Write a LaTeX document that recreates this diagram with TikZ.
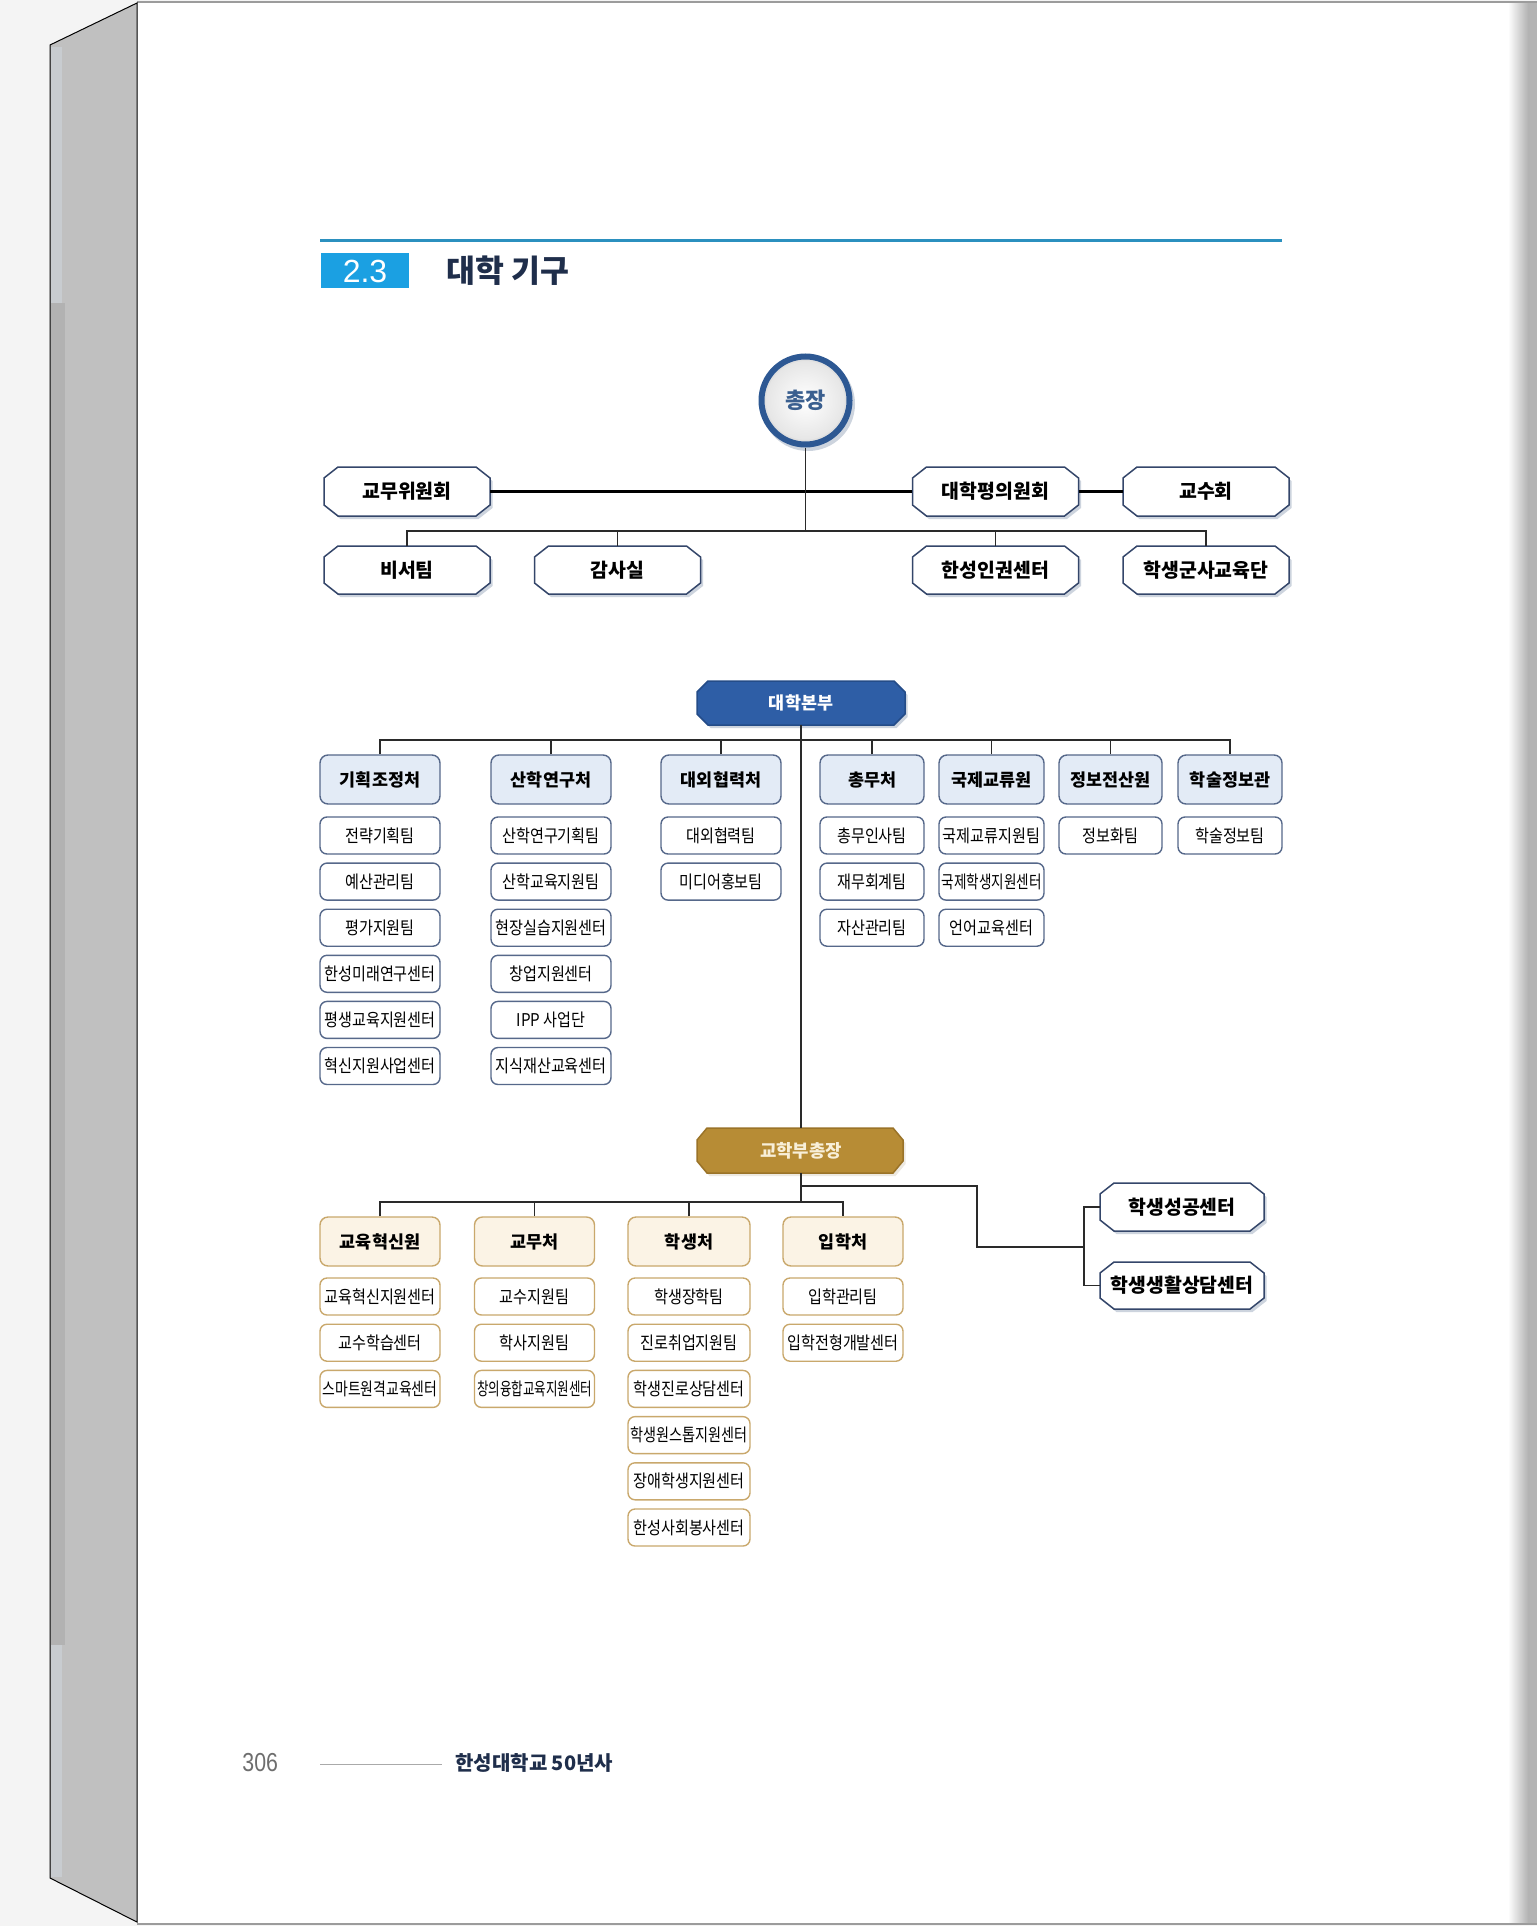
\documentclass[tikz,border=0pt]{standalone}
\usepackage{fontspec}
\usepackage{graphicx}
\newfontfamily\kr{Noto Sans CJK KR}
\newfontfamily\krc{Noto Sans CJK KR}[FakeStretch=0.86]
\newfontfamily\lsans{Liberation Sans}
\newfontfamily\lsansn{Liberation Sans}[FakeStretch=0.82]
\newsavebox\fitbox
\newlength\fitd
\newcommand\fitw[2]{\setlength\fitd{#1}\sbox\fitbox{#2}\ifdim\wd\fitbox>\fitd\resizebox{\fitd}{\height}{\usebox\fitbox}\else\usebox\fitbox\fi}
\definecolor{bgc}{HTML}{F4F4F4}
\definecolor{spine}{HTML}{C0C0C0}
\definecolor{spinel}{HTML}{C8CCD0}
\definecolor{spined}{HTML}{B2B2B2}
\definecolor{edgeg}{HTML}{9C9C9C}
\definecolor{rshade}{HTML}{B3B3B3}
\definecolor{tline}{HTML}{2B90BF}
\definecolor{tbox}{HTML}{1BA0E2}
\definecolor{tnavy}{HTML}{1F2E4B}
\definecolor{connc}{HTML}{2A2A2A}
\definecolor{octd}{HTML}{34466A}
\definecolor{octsh}{HTML}{CDD4DE}
\definecolor{ring}{HTML}{2D5893}
\definecolor{presc}{HTML}{3A5F8F}
\definecolor{bhf}{HTML}{E3EBF6}
\definecolor{bhd}{HTML}{56688A}
\definecolor{ghf}{HTML}{FBF3E5}
\definecolor{ghd}{HTML}{C9A86C}
\definecolor{hqf}{HTML}{2E5EA6}
\definecolor{hqd}{HTML}{244C88}
\definecolor{gdf}{HTML}{B78C35}
\definecolor{gdd}{HTML}{9A7328}
\definecolor{gdt}{HTML}{F8EFD8}
\definecolor{pgc}{HTML}{6E6E6E}
\definecolor{fline}{HTML}{AAAAAA}
\newcommand\octshape[7]{%
 \path[#1] ({#2-#4+#6},{#3-#5}) -- ({#2+#4-#6},{#3-#5}) -- ({#2+#4},{#3-#5+#7}) -- ({#2+#4},{#3+#5-#7}) -- ({#2+#4-#6},{#3+#5}) -- ({#2-#4+#6},{#3+#5}) -- ({#2-#4},{#3+#5-#7}) -- ({#2-#4},{#3-#5+#7}) -- cycle;}
\newcommand\octnode[6]{%
 \octshape{fill=octsh}{#2+2.5}{#3+3}{#4}{#5}{14}{11}%
 \octshape{draw=octd,fill=white,line width=0.75pt}{#2}{#3}{#4}{#5}{14}{11}%
 \node[octtxt, minimum width=#4pt, minimum height=#5pt] (#1) at (#2,#3) {#6};}
\newcommand\bsb[5]{\node[bsubst, minimum width=#4pt] (#1) at (#2,{835.5+46.1*#3}) {\fitw{\dimexpr#4pt-2.5pt\relax}{#5}};}
\newcommand\gsb[5]{\node[gsubst, minimum width=#4pt] (#1) at (#2,{1296.5+46.2*#3}) {\fitw{\dimexpr#4pt-2.5pt\relax}{#5}};}
\begin{document}
\begin{tikzpicture}[x=0.5pt,y=-0.5pt,
 conn/.style={draw=connc, line width=0.75pt},
 octtxt/.style={inner sep=0pt, font=\kr\bfseries\fontsize{9.7pt}{10pt}\selectfont, text=black},
 bhead/.style={draw=bhd, fill=bhf, line width=0.7pt, rounded corners=4pt, inner sep=0pt, minimum height=24.5pt, font=\kr\bfseries\fontsize{8.7pt}{9pt}\selectfont, text=black},
 bsubst/.style={draw=bhd, fill=white, line width=0.7pt, rounded corners=3.5pt, inner sep=0pt, minimum height=18.5pt, font=\krc\fontsize{8.8pt}{9pt}\selectfont, text=black},
 ghead/.style={draw=ghd, fill=ghf, line width=0.7pt, rounded corners=4pt, inner sep=0pt, minimum height=24.5pt, font=\kr\bfseries\fontsize{8.7pt}{9pt}\selectfont, text=black},
 gsubst/.style={draw=ghd, fill=white, line width=0.7pt, rounded corners=3.5pt, inner sep=0pt, minimum height=18.5pt, font=\krc\fontsize{8.8pt}{9pt}\selectfont, text=black}]
\useasboundingbox (0,0) rectangle (1537,1926);
% background and book
\fill[bgc] (0,0) rectangle (1537,1926);
\fill[white] (137,3) rectangle (1537,1923);
\shade[left color=white, right color=rshade] (1508,3) rectangle (1528,1923);
\fill[rshade] (1528,3) rectangle (1537,1923);
\draw[edgeg, line width=1pt] (137,2) -- (1537,2);
\draw[edgeg, line width=1pt] (137,1924) -- (1537,1924);
\fill[spine] (50,45) -- (137,3) -- (137,1922) -- (50,1878) -- cycle;
\fill[spinel] (51,47) rectangle (62,1877);
\fill[spined] (51,303) rectangle (65,1645);
\draw[black, line width=0.5pt] (50,45) -- (137,3) -- (137,1922) -- (50,1878) -- cycle;
% title
\draw[tline, line width=1.4pt] (320,240.5) -- (1282,240.5);
\fill[tbox] (321,253) rectangle (409,288);
\node[text=white, font=\lsans\fontsize{16pt}{16pt}\selectfont, inner sep=0pt] (secno) at (365,271) {2.3};
\node[anchor=west, text=tnavy, font=\kr\bfseries\fontsize{15.7pt}{16pt}\selectfont, inner sep=0pt] (sectitle) at (446,270.5) {대학 기구};
% president
\fill[octsh] (808,404) circle[radius=23.5pt];
\shade[inner color=white, outer color=white!78!gray] (805.5,400.5) circle[radius=22pt];
\draw[white!75!gray, line width=0.5pt] (805.5,400.5) circle[radius=20pt];
\draw[ring, line width=3pt] (805.5,400.5) circle[radius=22pt];
\node[circle, minimum size=47pt, inner sep=0pt, text=presc, font=\kr\bfseries\fontsize{11pt}{12pt}\selectfont] (pres) at (805.5,400.5) {총장};
% row 1 and row 2
\octnode{gmw}{407}{491.5}{83}{24.5}{교무위원회}
\octnode{pyw}{995.5}{491.5}{83}{24.5}{대학평의원회}
\octnode{gsh}{1206}{491.5}{83}{24.5}{교수회}
\octnode{bst}{407}{570}{83}{24}{비서팀}
\octnode{gss}{617.5}{570}{83}{24}{감사실}
\octnode{hir}{995.5}{570}{83}{24}{한성인권센터}
\octnode{hgs}{1206}{570}{83}{24}{학생군사교육단}
\coordinate (bus1) at (805.5,531);
\draw[conn, line width=1.1pt, draw=black] (gmw.east) -- (pyw.west);
\draw[conn, line width=1.1pt, draw=black] (pyw.east) -- (gsh.west);
\draw[conn] (pres.south) -- (bus1);
\draw[conn] (bst.north) -- (bst.north |- bus1) -- (hgs.north |- bus1) -- (hgs.north);
\draw[conn] (gss.north) -- (gss.north |- bus1);
\draw[conn] (hir.north) -- (hir.north |- bus1);
% headquarters
\octshape{fill=octsh}{803.5}{706}{104}{22}{11}{11}
\octshape{draw=hqd,fill=hqf,line width=0.75pt}{801}{703}{104}{22}{11}{11}
\node[inner sep=0pt, minimum width=104pt, minimum height=22pt, text=white, font=\kr\bfseries\fontsize{8.7pt}{9pt}\selectfont] (hq) at (801,703) {대학본부};
% vice president
\octshape{fill=octsh!60!gdf!30}{802.5}{1153.5}{103}{22.5}{10}{12}
\octshape{draw=gdd,fill=gdf,line width=0.75pt}{800}{1150.5}{103}{22.5}{10}{12}
\node[inner sep=0pt, minimum width=103pt, minimum height=22.5pt, text=gdt, font=\kr\bfseries\fontsize{8.9pt}{9pt}\selectfont] (vp) at (801,1150.5) {교학부총장};
\draw[conn] (hq.south) -- (hq.south |- vp.north);
% blue heads
\node[bhead, minimum width=60pt] (c1) at (380,779.5) {기획조정처};
\node[bhead, minimum width=60pt] (c2) at (551,779.5) {산학연구처};
\node[bhead, minimum width=60pt] (c3) at (721,779.5) {대외협력처};
\node[bhead, minimum width=52pt] (c4) at (872,779.5) {총무처};
\node[bhead, minimum width=52.5pt] (c5) at (991.5,779.5) {국제교류원};
\node[bhead, minimum width=51.5pt] (c6) at (1110.5,779.5) {정보전산원};
\node[bhead, minimum width=52pt] (c7) at (1230,779.5) {학술정보관};
\coordinate (bus2) at (801,740);
\draw[conn] (c1.north) -- (c1.north |- bus2) -- (c7.north |- bus2) -- (c7.north);
\foreach \c in {c2,c3,c4,c5,c6} {\draw[conn] (\c.north) -- (\c.north |- bus2);}
% blue subs
\bsb{c1a}{380}{0}{60}{전략기획팀}
\bsb{c1b}{380}{1}{60}{예산관리팀}
\bsb{c1c}{380}{2}{60}{평가지원팀}
\bsb{c1d}{380}{3}{60}{한성미래연구센터}
\bsb{c1e}{380}{4}{60}{평생교육지원센터}
\bsb{c1f}{380}{5}{60}{혁신지원사업센터}
\bsb{c2a}{551}{0}{60}{산학연구기획팀}
\bsb{c2b}{551}{1}{60}{산학교육지원팀}
\bsb{c2c}{551}{2}{60}{현장실습지원센터}
\bsb{c2d}{551}{3}{60}{창업지원센터}
\bsb{c2e}{551}{4}{60}{IPP 사업단}
\bsb{c2f}{551}{5}{60}{지식재산교육센터}
\bsb{c3a}{721}{0}{60}{대외협력팀}
\bsb{c3b}{721}{1}{60}{미디어홍보팀}
\bsb{c4a}{872}{0}{52}{총무인사팀}
\bsb{c4b}{872}{1}{52}{재무회계팀}
\bsb{c4c}{872}{2}{52}{자산관리팀}
\bsb{c5a}{991.5}{0}{52.5}{국제교류지원팀}
\bsb{c5b}{991.5}{1}{52.5}{국제학생지원센터}
\bsb{c5c}{991.5}{2}{52.5}{언어교육센터}
\bsb{c6a}{1110.5}{0}{51.5}{정보화팀}
\bsb{c7a}{1230}{0}{52}{학술정보팀}
% gold heads
\node[ghead, minimum width=60pt] (e1) at (380,1241.5) {교육혁신원};
\node[ghead, minimum width=60pt] (e2) at (534.5,1241.5) {교무처};
\node[ghead, minimum width=61pt] (e3) at (689,1241.5) {학생처};
\node[ghead, minimum width=60pt] (e4) at (843,1241.5) {입학처};
\coordinate (bus3) at (801,1202);
\coordinate (br) at (801,1186);
\draw[conn] (vp.south) -- (bus3);
\draw[conn] (e1.north) -- (e1.north |- bus3) -- (e4.north |- bus3) -- (e4.north);
\draw[conn] (e2.north) -- (e2.north |- bus3);
\draw[conn] (e3.north) -- (e3.north |- bus3);
% gold subs
\gsb{e1a}{380}{0}{60}{교육혁신지원센터}
\gsb{e1b}{380}{1}{60}{교수학습센터}
\gsb{e1c}{380}{2}{60}{스마트원격교육센터}
\gsb{e2a}{534.5}{0}{60}{교수지원팀}
\gsb{e2b}{534.5}{1}{60}{학사지원팀}
\gsb{e2c}{534.5}{2}{60}{창의융합교육지원센터}
\gsb{e3a}{689}{0}{61}{학생장학팀}
\gsb{e3b}{689}{1}{61}{진로취업지원팀}
\gsb{e3c}{689}{2}{61}{학생진로상담센터}
\gsb{e3d}{689}{3}{61}{학생원스톱지원센터}
\gsb{e3e}{689}{4}{61}{장애학생지원센터}
\gsb{e3f}{689}{5}{61}{한성사회봉사센터}
\gsb{e4a}{843}{0}{60}{입학관리팀}
\gsb{e4b}{843}{1}{60}{입학전형개발센터}
% side branch
\octnode{ssc}{1182}{1207}{82}{24}{학생성공센터}
\octnode{sls}{1182}{1285.5}{82}{23.5}{학생생활상담센터}
\coordinate (brB) at (977,1247);
\coordinate (brC) at (1084,1247);
\draw[conn] (br) -| (brB) -- (brC);
\draw[conn] (ssc.west) -| (brC) |- (sls.west);
% footer
\node[anchor=west, inner sep=0pt, text=pgc, font=\lsansn\fontsize{13pt}{13pt}\selectfont] (pgno) at (242,1763) {306};
\draw[fline, line width=0.5pt] (320,1764) -- (442,1764);
\node[anchor=west, inner sep=0pt, text=tnavy, font=\kr\bfseries\fontsize{10pt}{11pt}\selectfont] (book) at (455,1763) {한성대학교 50년사};
\end{tikzpicture}
\end{document}
